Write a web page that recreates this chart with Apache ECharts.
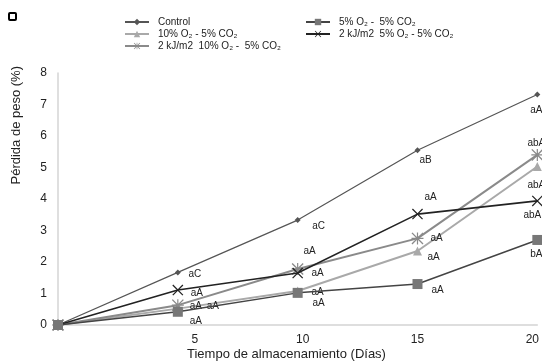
<!DOCTYPE html>
<html><head><meta charset="utf-8">
<script src="https://cdn.jsdelivr.net/npm/echarts@6/dist/echarts.min.js"></script>
<style>html,body{margin:0;padding:0;background:#fff}#c{width:542px;height:364px}</style>
</head><body><div id="c"></div>
<script>
// ---- data ----
const days = [0, 5, 10, 15, 20];
const xTickLabels = ['', '5', '10', '15', '20'];
const seriesNames = ['Control', '10% O₂ - 5% CO₂', '2 kJ/m2  10% O₂ -  5% CO₂', '5% O₂ -  5% CO₂', '2 kJ/m2  5% O₂ - 5% CO₂'];
const control = [0, 1.67, 3.33, 5.55, 7.32];
const o10 = [0, 0.52, 1.08, 2.35, 5.03];
const kj_o10 = [0, 0.63, 1.78, 2.75, 5.40];
const o5 = [0, 0.42, 1.02, 1.30, 2.70];
const kj_o5 = [0, 1.11, 1.65, 3.52, 3.94];
const controlLetters = ['', 'aC', 'aC', 'aB', 'aA'];
const o10Letters = ['', 'aA', 'aA', 'aA', 'abA'];
const kj_o10Letters = ['', 'aA', 'aA', 'aA', 'abA'];
const o5Letters = ['', 'aA', 'aA', 'aA', 'bA'];
const kj_o5Letters = ['', 'aA', 'aA', 'aA', 'abA'];

// ---- styles (label offsets relative to point) ----
const offControl = [[0,0],[17,2],[21,6],[8,10],[-1,16]];
const offO10 = [[0,0],[35,-2],[20,1],[16,6],[-1,19]];
const offKjO10 = [[0,0],[18,1],[20,4],[19,0],[-1,-12]];
const offO5 = [[0,0],[18,9],[21,10],[20,6],[-1,14]];
const offKjO5 = [[0,0],[19,3],[12,-22],[13,-17],[-5,14]];

const asterisk = 'path://M4.5 0H5.5V10H4.5Z M0 4.5H10V5.5H0Z M0 0.8L0.8 0L10 9.2L9.2 10Z M9.2 0L10 0.8L0.8 10L0 9.2Z';
const xMark = 'path://M0 0.8L0.8 0L10 9.2L9.2 10Z M9.2 0L10 0.8L0.8 10L0 9.2Z';

function mk(vals, letters, offs) {
  return vals.map((v, i) => ({
    value: [days[i], v],
    label: {show: letters[i] !== '', formatter: letters[i], position: 'inside', offset: offs[i],
      align: 'center', verticalAlign: 'middle', fontSize: 10, color: '#222', fontFamily: 'Liberation Sans, Arial'}
  }));
}

const chart = echarts.init(document.getElementById('c'), null, {renderer: 'canvas'});
const xlRich = {
  a5: {padding: [0, 0, 0, 34]},
  a10: {padding: [0, 0, 0, 10]},
  a15: {},
  a20: {padding: [0, 10, 0, 0]}
};
const legendText = {fontSize: 10, color: '#222', lineHeight: 12, padding: [0, 0, 0, 4]};
chart.setOption({
  animation: false,
  backgroundColor: '#fff',
  textStyle: {fontFamily: 'Liberation Sans, Arial'},
  grid: {left: 58, right: 4, top: 73, bottom: 39, containLabel: false},
  legend: [
    {orient: 'vertical', left: 124, top: 16, padding: 0, itemWidth: 24, itemHeight: 8, itemGap: 0,
     data: [seriesNames[0], seriesNames[1], seriesNames[2]], textStyle: legendText},
    {orient: 'vertical', left: 305, top: 16, padding: 0, itemWidth: 24, itemHeight: 8, itemGap: 0,
     data: [seriesNames[3], seriesNames[4]], textStyle: legendText}
  ],
  xAxis: {
    type: 'value', min: 0, max: 20, interval: 5,
    axisLine: {show: true, lineStyle: {color: '#d4d4d4', width: 1.5}},
    axisTick: {show: false}, splitLine: {show: false},
    axisLabel: {fontSize: 12, color: '#222', margin: 9,
      formatter: function (v) { const i = days.indexOf(v); const t = xTickLabels[i]; return t ? '{a' + t + '|' + t + '}' : ''; },
      rich: xlRich}
  },
  yAxis: {
    type: 'value', min: 0, max: 8, interval: 1,
    axisLine: {show: true, lineStyle: {color: '#d4d4d4', width: 1.5}},
    axisTick: {show: false}, splitLine: {show: false},
    axisLabel: {fontSize: 12, color: '#222', margin: 11}
  },
  series: [
    {name: seriesNames[0], type: 'line', data: mk(control, controlLetters, offControl), symbol: 'diamond', symbolSize: 6,
     lineStyle: {color: '#555', width: 1.2}, itemStyle: {color: '#555'}, z: 3},
    {name: seriesNames[1], type: 'line', data: mk(o10, o10Letters, offO10), symbol: 'triangle', symbolSize: 9,
     lineStyle: {color: '#a9a9a9', width: 2}, itemStyle: {color: '#a9a9a9'}, z: 2},
    {name: seriesNames[2], type: 'line', data: mk(kj_o10, kj_o10Letters, offKjO10), symbol: asterisk, symbolSize: 12,
     lineStyle: {color: '#8a8a8a', width: 2}, itemStyle: {color: '#8a8a8a'}, z: 2},
    {name: seriesNames[3], type: 'line', data: mk(o5, o5Letters, offO5), symbol: 'rect', symbolSize: 10,
     lineStyle: {color: '#444', width: 1.5}, itemStyle: {color: '#777'}, z: 4},
    {name: seriesNames[4], type: 'line', data: mk(kj_o5, kj_o5Letters, offKjO5), symbol: xMark, symbolSize: 11,
     lineStyle: {color: '#222', width: 1.6}, itemStyle: {color: '#222'}, z: 3}
  ],
  graphic: [
    {type: 'rect', left: 8, top: 12, shape: {width: 7, height: 7, r: 1}, style: {fill: '#fff', stroke: '#000', lineWidth: 2}},
    {type: 'text', left: 10, top: 66, rotation: Math.PI / 2, originX: 0, originY: 0,
     style: {text: 'Pérdida de peso (%)', fontSize: 13, fill: '#222', fontFamily: 'Liberation Sans, Arial'}},
    {type: 'text', left: 187, top: 348,
     style: {text: 'Tiempo de almacenamiento (Días)', fontSize: 13, fill: '#222', fontFamily: 'Liberation Sans, Arial'}}
  ]
});
</script>
</body></html>
